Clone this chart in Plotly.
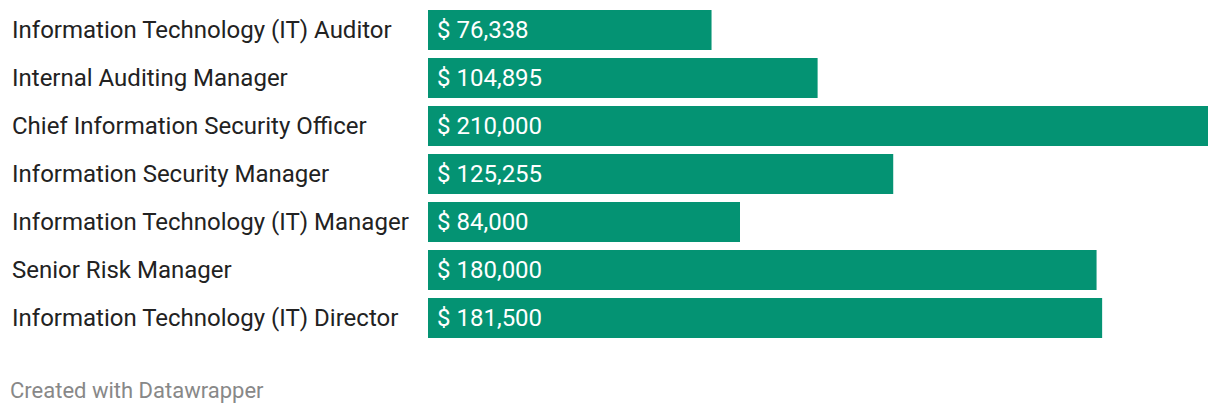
import plotly.graph_objects as go

categories = [
    "Information Technology (IT) Auditor",
    "Internal Auditing Manager",
    "Chief Information Security Officer",
    "Information Security Manager",
    "Information Technology (IT) Manager",
    "Senior Risk Manager",
    "Information Technology (IT) Director",
]
salaries = [76338, 104895, 210000, 125255, 84000, 180000, 181500]

# page has an 8px body margin; figure is sized to fit the 1220x414 window
OFF = 8
W, H = 1220 - OFF, 414 - OFF
L = 428 - OFF
R = W - (1208 - OFF)
T = 0
B = H - (342 - OFF)
plot_w = W - L - R
plot_h = H - T - B
band = 48.0
n = len(categories)
y_top = (n - 0.5) - plot_h / band

fig = go.Figure(go.Bar(
    x=salaries, y=list(range(n)), orientation="h",
    marker=dict(color="#049373", line=dict(width=0)),
    width=40 / band,
    hoverinfo="skip",
))

annotations = []
for i, (c, v) in enumerate(zip(categories, salaries)):
    annotations.append(dict(
        x=0, y=i, xref="x", yref="y", text=f"$ {v:,}", showarrow=False,
        xanchor="left", xshift=7, font=dict(family="Roboto", size=24, color="#ffffff"),
    ))
    annotations.append(dict(
        x=(2 - L) / plot_w, y=i, xref="paper", yref="y", text=c, showarrow=False,
        xanchor="left", font=dict(family="Roboto", size=24, color="#222222"),
    ))
annotations.append(dict(
    x=(0 - L) / plot_w, y=-((390 - OFF) - (H - B)) / plot_h, xref="paper", yref="paper",
    text="Created with Datawrapper", showarrow=False, xanchor="left", yanchor="middle",
    font=dict(family="Roboto", size=22, color="#888888"),
))

fig.update_layout(
    width=W, height=H,
    margin=dict(l=L, r=R, t=T, b=B, pad=0),
    paper_bgcolor="white", plot_bgcolor="white",
    showlegend=False,
    xaxis=dict(range=[0, max(salaries)], visible=False, fixedrange=True),
    yaxis=dict(range=[n - 0.5, y_top], visible=False, fixedrange=True),
    annotations=annotations,
)

fig.write_html("out.html", config={"displayModeBar": False})
